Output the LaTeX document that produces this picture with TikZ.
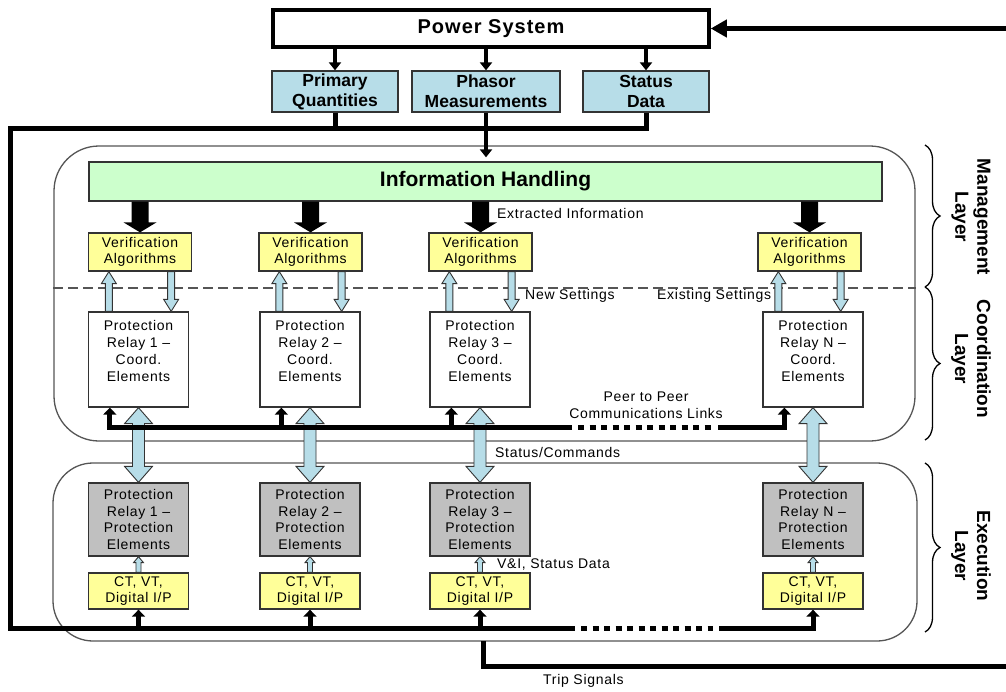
\documentclass[tikz,border=0pt]{standalone}
\usepackage{fontspec}
\setmainfont{Liberation Sans}
\newfontfamily\spaced[LetterSpace=5]{Liberation Sans}
\usetikzlibrary{calc,arrows.meta,decorations.pathreplacing}
\definecolor{qblue}{HTML}{B7DDE8}
\definecolor{igreen}{HTML}{CCFFCC}
\definecolor{vyellow}{HTML}{FFFF99}
\definecolor{pgrey}{HTML}{C0C0C0}
\definecolor{edgec}{HTML}{333333}
\definecolor{layerc}{HTML}{555555}
% single-headed block arrow: style, tail, tip, half shaft, half head, head length
\newcommand\blkarrow[6]{%
  \coordinate (ha-h) at ($(#3)!#6!(#2)$);
  \path[#1] ($(#2)!#4!90:(#3)$) -- ($(ha-h)!#4!90:(#3)$) -- ($(ha-h)!#5!90:(#3)$) -- (#3)
    -- ($(ha-h)!#5!-90:(#3)$) -- ($(ha-h)!#4!-90:(#3)$) -- ($(#2)!#4!-90:(#3)$) -- cycle;
}
% double-headed block arrow
\newcommand\dblarrow[6]{%
  \coordinate (hb-a) at ($(#2)!#6!(#3)$);
  \coordinate (hb-b) at ($(#3)!#6!(#2)$);
  \path[#1] (#2) -- ($(hb-a)!#5!90:(#3)$) -- ($(hb-a)!#4!90:(#3)$) -- ($(hb-b)!#4!90:(#3)$)
    -- ($(hb-b)!#5!90:(#3)$) -- (#3) -- ($(hb-b)!#5!-90:(#3)$) -- ($(hb-b)!#4!-90:(#3)$)
    -- ($(hb-a)!#4!-90:(#3)$) -- ($(hb-a)!#5!-90:(#3)$) -- cycle;
}
\tikzset{
  every node/.style={font=\spaced\fontsize{14}{16.7}\selectfont},
  box/.style={draw=edgec, line width=1.3pt, align=center, inner sep=0pt, minimum width=100pt},
  psbox/.style={draw=black, line width=3.5pt, fill=white, minimum width=436pt, minimum height=37pt,
    font=\spaced\bfseries\fontsize{20}{22}\selectfont},
  topbox/.style={box, fill=qblue, minimum height=41pt, font=\bfseries\fontsize{17.5}{20}\selectfont},
  infobox/.style={box, fill=igreen, minimum width=793pt, minimum height=39pt,
    font=\bfseries\fontsize{21}{24}\selectfont},
  verbox/.style={box, fill=vyellow, minimum width=103pt, minimum height=38pt},
  relbox/.style={box, fill=white, minimum height=95pt},
  protbox/.style={box, fill=pgrey, minimum height=73pt},
  ctbox/.style={box, fill=vyellow, minimum height=36pt},
  txt/.style={align=center, inner sep=0pt},
  lbl/.style={anchor=west, inner sep=0pt},
  layer/.style={draw=layerc, line width=1.3pt, fill=white},
  layerlbl/.style={rotate=-90, align=center, inner sep=0pt, font=\bfseries\fontsize{19}{22}\selectfont},
  bus/.style={line width=5pt, black},
  busarrow/.style={bus, -{Triangle[width=13pt,length=7pt]}},
  parrow/.style={line width=4pt, -{Triangle[width=12pt,length=8pt]}},
  dots/.style={bus, dash pattern=on 6pt off 5.5pt},
  blk/.style={fill=black},
  hollow/.style={fill=qblue, draw=edgec, line width=0.9pt},
  dashline/.style={draw=layerc, line width=1.2pt, dash pattern=on 10pt off 5pt},
  brace/.style={draw=black, line width=1.3pt, decorate, decoration={brace, amplitude=15pt}}
}
\begin{document}
\begin{tikzpicture}[x=1pt, y=-1pt, line join=miter]
\useasboundingbox (0,0) rectangle (1006,691);
\fill[white] (0,0) rectangle (1006,691);

% layer containers
\node[layer, rounded corners=45pt, minimum width=861pt, minimum height=295pt] (mg) at (484.5,293.5) {};
\node[layer, rounded corners=40pt, minimum width=864pt, minimum height=178pt] (ex) at (485,552) {};
\draw[dashline] (mg.west |- 0,288) -- (mg.east |- 0,288);

% braces and layer labels
\draw[brace] (925,145) -- (925,287);
\draw[brace] (925,287) -- (925,440);
\draw[brace] (925,463) -- (925,632);
\node[layerlbl] (lm) at (971,217) {Management\\Layer};
\node[layerlbl] (lc) at (971,359) {Coordination\\Layer};
\node[layerlbl] (le) at (971,556) {Execution\\Layer};

% top part
\node[psbox] (ps) at (491,28.5) {Power System};
\node[topbox, minimum width=126pt] (pq) at (335,91.5) {Primary\\Quantities};
\node[topbox, minimum width=148pt] (ph) at (486,91.5) {Phasor\\Measurements};
\node[topbox, minimum width=126pt] (sd) at (646,91.5) {Status\\Data};
\node[infobox] (ih) at (485.5,181.5) {Information Handling};

\coordinate (fb) at (1006,28.5);
\draw[bus, -{Triangle[width=17pt,length=16pt]}] (fb) -- (ps.east);
\draw[parrow] (ps.south -| pq.north) -- (pq.north);
\draw[parrow] (ps.south -| ph.north) -- (ph.north);
\draw[parrow] (ps.south -| sd.north) -- (sd.north);
\coordinate (phT) at ($(ph.south |- ih.north)+(0,-4)$);
\draw[parrow] (ph.south) -- (phT);

% columns
\foreach \i/\vx/\cx in {1/140/138.5, 2/310.5/310, 3/480.5/480, N/809.5/813} {
  \node[verbox] (v\i) at (\vx,252) {Verification\\Algorithms};
  \node[relbox] (c\i) at (\cx,359.5) {};
  \node[txt] (ct\i) at (\cx,351) {Protection\\Relay \i\ –\\Coord.\\Elements};
  \node[protbox] (e\i) at (\cx,519.5) {Protection\\Relay \i\ –\\Protection\\Elements};
  \node[ctbox] (t\i) at (\cx,591) {CT, VT,\\Digital I/P};
}
\foreach \i in {1,2,3,N} {
  \coordinate (kS\i) at (ih.south -| v\i.north);
  \blkarrow{blk}{kS\i}{v\i.north}{8.5pt}{16.5pt}{10pt}
  \coordinate (uT\i) at ($(v\i.south west)+(21,0)$);
  \coordinate (uB\i) at (uT\i |- c\i.north);
  \blkarrow{hollow}{uB\i}{uT\i}{3.5pt}{7.5pt}{12pt}
  \coordinate (dS\i) at ($(v\i.south east)+(-21,0)$);
  \coordinate (dE\i) at (dS\i |- c\i.north);
  \blkarrow{hollow}{dS\i}{dE\i}{3.5pt}{7.5pt}{12pt}
  \dblarrow{hollow}{c\i.south}{e\i.north}{6pt}{14pt}{16pt}
  \blkarrow{hollow}{t\i.north}{e\i.south}{2.5pt}{5pt}{6pt}
  \coordinate (p\i) at ($(c\i.south west)+(22,0)$);
}

% peer to peer bus
\coordinate (pbA) at (572,427);
\coordinate (pbB) at (578,427);
\coordinate (pbC) at (712,427);
\coordinate (pbD) at (718,427);
\draw[busarrow] (pbA) -- (p1 |- pbA) -- (p1);
\draw[busarrow] (p2 |- pbA) -- (p2);
\draw[busarrow] (p3 |- pbA) -- (p3);
\draw[dots] (pbB) -- (pbC);
\draw[busarrow] (pbD) -| (pN);

% measurement / execution bus
\coordinate (tl) at (10,128);
\coordinate (bl) at (10,628);
\coordinate (ebA) at (575,628);
\coordinate (ebB) at (581,628);
\coordinate (ebC) at (713,628);
\coordinate (ebD) at (719,628);
\draw[bus] (sd.south) |- (tl) -- (bl) -- (ebA);
\draw[bus] (pq.south) -- (pq.south |- tl);
\draw[busarrow] (t1.south |- bl) -- (t1.south);
\draw[busarrow] (t2.south |- bl) -- (t2.south);
\draw[busarrow] (t3.south |- bl) -- (t3.south);
\draw[dots] (ebB) -- (ebC);
\draw[busarrow] (ebD) -| (tN.south);

% trip signals
\coordinate (trS) at (483,641);
\coordinate (trE) at (1006,666);
\draw[bus] (trS) |- (trE);

% labels
\node[lbl] (l1) at (497,213) {Extracted Information};
\node[lbl] (l2) at (525,296) {New Settings};
\node[lbl] (l3) at (657,296) {Existing Settings};
\node[txt] (l4) at (646,405.5) {Peer to Peer\\Communications Links};
\node[lbl] (l5) at (495,452) {Status/Commands};
\node[lbl] (l6) at (497,564) {V\&I, Status Data};
\node[lbl] (l7) at (543,681) {Trip Signals};
\end{tikzpicture}
\end{document}
